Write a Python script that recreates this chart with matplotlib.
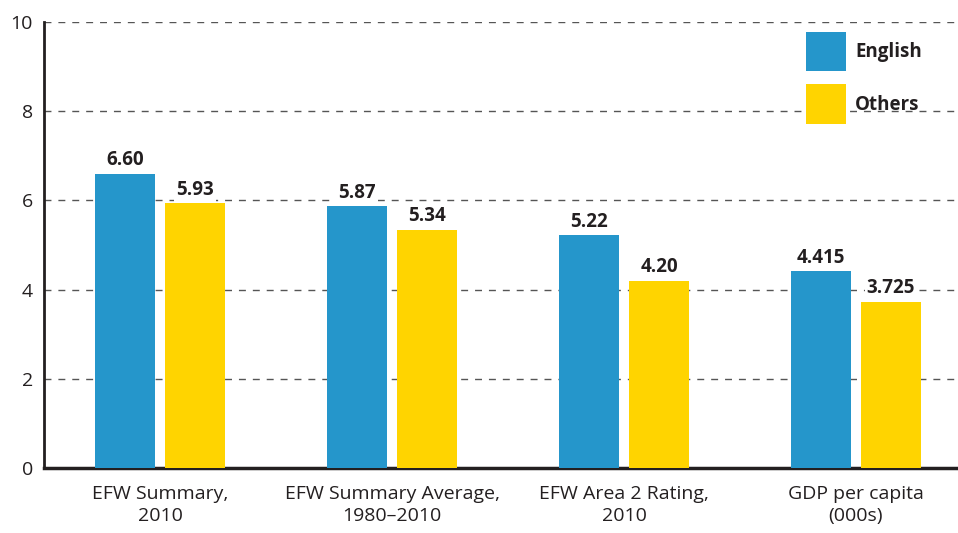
import matplotlib.pyplot as plt
import numpy as np

# average scores, English-speaking vs other countries
cats = ['EFW Summary,\n2010', 'EFW Summary Average,\n1980\u20132010',
        'EFW Area 2 Rating,\n2010', 'GDP per capita\n(000s)']
english = [6.60, 5.87, 5.22, 4.415]
others = [5.93, 5.34, 4.20, 3.725]
eng_lab = ['6.60', '5.87', '5.22', '4.415']
oth_lab = ['5.93', '5.34', '4.20', '3.725']

blue = '#2596cb'
yel = '#ffd400'
txt = '#231f20'

plt.rcParams['font.family'] = ['Open Sans', 'DejaVu Sans']

fig = plt.figure(figsize=[9.58, 5.33], dpi=100)
ax = fig.add_axes([0.046, 0.122, 0.954, 0.837])

x = np.arange(len(cats))
w = 0.259
off = 0.151
b1 = ax.bar(x - off, english, w, color=blue, label='English', zorder=3)
b2 = ax.bar(x + off, others, w, color=yel, label='Others', zorder=3)

# value labels with white box so they cut through the grid
for bars, labs in [(b1, eng_lab), (b2, oth_lab)]:
    for b, l in zip(bars, labs):
        ax.annotate(l, (b.get_x() + b.get_width() / 2, b.get_height()),
                    xytext=(0, 2.5), textcoords='offset points', ha='center', va='bottom',
                    fontsize=13.5, fontweight='bold', color=txt, zorder=4,
                    bbox=dict(facecolor='white', edgecolor='none', pad=1.5))

ax.set_xlim(-0.5, 3.44)
ax.set_ylim(0, 10)
ax.set_yticks(range(0, 11, 2))
ax.set_xticks(x)
ax.set_xticklabels(cats, fontsize=14, color=txt, linespacing=1.3)
ax.tick_params(axis='x', length=0, pad=12)
ax.tick_params(axis='y', length=0, pad=8, labelsize=14, labelcolor=txt)
ax.yaxis.grid(True, linestyle=(0, (5, 5)), color='#555555', linewidth=1, zorder=0)
ax.set_axisbelow(True)

for s in ['top', 'right']:
    ax.spines[s].set_visible(False)
ax.spines['left'].set_linewidth(2)
ax.spines['bottom'].set_linewidth(2.5)
ax.spines['left'].set_color(txt)
ax.spines['bottom'].set_color(txt)

lgd = ax.legend(loc='upper left', bbox_to_anchor=(0.834, 0.978), frameon=False,
                borderpad=0, borderaxespad=0,
                handlelength=2.13, handleheight=2.85, labelspacing=0.72, handletextpad=0.48,
                prop={'weight': 'bold', 'size': 13.5})
for t in lgd.get_texts():
    t.set_color(txt)

plt.savefig('out.png')
